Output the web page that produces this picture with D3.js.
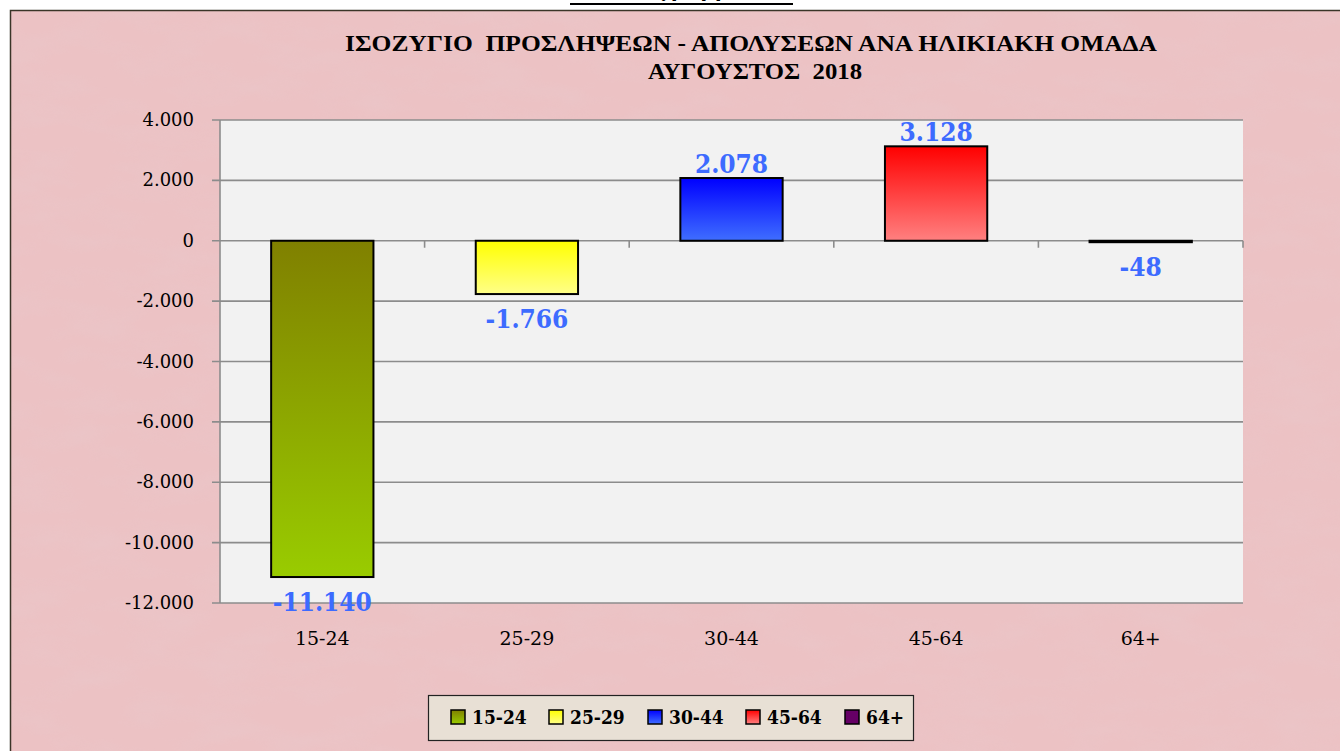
<!DOCTYPE html>
<html><head><meta charset="utf-8">
<script src="https://cdn.jsdelivr.net/npm/d3@7"></script>
<style>
html,body{margin:0;padding:0;background:#fff;}
svg{display:block;}
</style></head>
<body>
<svg id="chart" width="1340" height="751"></svg>
<script>
const categories = ["15-24", "25-29", "30-44", "45-64", "64+"];
const values = [-11140, -1766, 2078, 3128, -48];
const yTicks = [4000, 2000, 0, -2000, -4000, -6000, -8000, -10000, -12000];
const titleLines = ["ΙΣΟΖΥΓΙΟ  ΠΡΟΣΛΗΨΕΩΝ - ΑΠΟΛΥΣΕΩΝ ΑΝΑ ΗΛΙΚΙΑΚΗ ΟΜΑΔΑ", "ΑΥΓΟΥΣΤΟΣ  2018"];
const gradTop = ["#808000", "#FFFF00", "#0000FF", "#FF0000", "#660066"];
const gradBottom = ["#99CC00", "#FFFF88", "#3F6EFF", "#FF8080", "#660066"];

const svg = d3.select("#chart");
const W = 1340, H = 751;
const serif = "'DejaVu Serif', 'Liberation Serif', serif";
const loc = d3.formatLocale({decimal: ",", thousands: ".", grouping: [3], currency: ["", "€"], minus: "-"});
const fmt = loc.format(",d");

const defs = svg.append("defs");
// parchment texture
const filt = defs.append("filter").attr("id", "tex").attr("x", 0).attr("y", 0).attr("width", "100%").attr("height", "100%");
filt.append("feTurbulence").attr("type", "fractalNoise").attr("baseFrequency", "0.015 0.04").attr("numOctaves", 4).attr("seed", 7).attr("result", "n");
filt.append("feColorMatrix").attr("in", "n").attr("type", "matrix")
  .attr("values", "0 0 0 0 0.80  0 0 0 0 0.62  0 0 0 0 0.64  1.4 0 0 0 -0.55").attr("result", "c");
filt.append("feComposite").attr("in", "c").attr("in2", "SourceGraphic").attr("operator", "in");

categories.forEach((c, i) => {
  const g = defs.append("linearGradient").attr("id", "g" + i).attr("x1", 0).attr("y1", 0).attr("x2", 0).attr("y2", 1);
  g.append("stop").attr("offset", "0%").attr("stop-color", gradTop[i]);
  g.append("stop").attr("offset", "100%").attr("stop-color", gradBottom[i]);
});

// top white strip with cut-off caption (cut off in the reference too)
svg.append("text").attr("x", 681).attr("y", -3).attr("text-anchor", "middle")
  .attr("font-family", serif).attr("font-weight", "bold").attr("font-size", 20).attr("fill", "#000").text("Διάγραμμα");
svg.append("line").attr("x1", 570).attr("x2", 793).attr("y1", 4).attr("y2", 4).attr("stroke", "#000").attr("stroke-width", 2);

// chart background
svg.append("rect").attr("x", 10).attr("y", 10).attr("width", W).attr("height", H).attr("fill", "#ECC2C4");
svg.append("rect").attr("x", 10).attr("y", 10).attr("width", W).attr("height", H).attr("fill", "#ECC2C4").attr("filter", "url(#tex)").attr("opacity", 0.35);
svg.append("rect").attr("x", 10.5).attr("y", 10.5).attr("width", W).attr("height", H).attr("fill", "none").attr("stroke", "#3a3528").attr("stroke-width", 1.5);

// title
titleLines.forEach((t, i) => {
  svg.append("text").attr("x", i === 0 ? 751 : 755).attr("y", i === 0 ? 51 : 79).attr("text-anchor", "middle")
    .attr("xml:space", "preserve").style("white-space", "pre")
    .attr("font-family", "'Liberation Serif', serif").attr("font-weight", "bold").attr("font-size", 23)
    .attr("textLength", i === 0 ? 812 : 214).attr("lengthAdjust", "spacingAndGlyphs")
    .attr("fill", "#000").text(t);
});

const x = d3.scaleBand().domain(categories).range([220, 1243]).paddingInner(0.5).paddingOuter(0.25);
const y = d3.scaleLinear().domain([-12000, 4000]).range([603, 120]);

// plot area
svg.append("rect").attr("x", 220).attr("y", 120).attr("width", 1243 - 220).attr("height", 603 - 120).attr("fill", "#F2F2F2");

// gridlines
svg.append("g").selectAll("line").data(yTicks).join("line")
  .attr("x1", 212).attr("x2", 1243).attr("y1", d => y(d)).attr("y2", d => y(d))
  .attr("stroke", "#8C8C8C").attr("stroke-width", 1.6);
// left axis line
svg.append("line").attr("x1", 220).attr("x2", 220).attr("y1", 120).attr("y2", 603).attr("stroke", "#8C8C8C").attr("stroke-width", 1.6);

// y axis labels
svg.append("g").selectAll("text").data(yTicks).join("text")
  .attr("x", 194).attr("y", d => y(d) + 6).attr("text-anchor", "end")
  .attr("font-family", serif).attr("font-size", 18).attr("fill", "#000").text(d => fmt(d));

// category tick marks on zero line
const step = x.step();
svg.append("g").selectAll("line").data(categories).join("line")
  .attr("x1", d => x(d) + x.bandwidth() / 2 + step / 2).attr("x2", d => x(d) + x.bandwidth() / 2 + step / 2)
  .attr("y1", y(0)).attr("y2", y(0) + 7).attr("stroke", "#8C8C8C").attr("stroke-width", 1.6);

// bars
svg.append("g").selectAll("rect").data(values).join("rect")
  .attr("x", (d, i) => x(categories[i]))
  .attr("y", d => y(Math.max(0, d)))
  .attr("width", x.bandwidth())
  .attr("height", d => Math.max(1, Math.abs(y(d) - y(0))))
  .attr("fill", (d, i) => `url(#g${i})`)
  .attr("stroke", "#000").attr("stroke-width", 2);

// data labels
svg.append("g").selectAll("text").data(values).join("text")
  .attr("x", (d, i) => x(categories[i]) + x.bandwidth() / 2)
  .attr("y", d => d >= 0 ? y(d) - 5 : y(d) + 34)
  .attr("text-anchor", "middle")
  .attr("font-family", "'DejaVu Serif Condensed', 'DejaVu Serif', serif").attr("font-weight", "bold").attr("font-size", 26)
  .attr("fill", "#3D6BFF").text(d => fmt(d));

// category labels
svg.append("g").selectAll("text").data(categories).join("text")
  .attr("x", d => x(d) + x.bandwidth() / 2).attr("y", 645).attr("text-anchor", "middle")
  .attr("font-family", serif).attr("font-size", 19).attr("fill", "#000").text(d => d);

// legend
svg.append("rect").attr("x", 428.5).attr("y", 695.5).attr("width", 485).attr("height", 45)
  .attr("fill", "#E8E0D5").attr("stroke", "#222").attr("stroke-width", 1.2);
const legX = [451, 549, 648, 746, 845];
const lg = svg.append("g").selectAll("g").data(categories).join("g")
  .attr("transform", (d, i) => `translate(${legX[i]},710)`);
lg.append("rect").attr("x", 0).attr("y", 0).attr("width", 14).attr("height", 14)
  .attr("fill", (d, i) => `url(#g${i})`).attr("stroke", "#000").attr("stroke-width", 1.5);
lg.append("text").attr("x", 21).attr("y", 14).attr("font-family", "'DejaVu Serif Condensed', 'DejaVu Serif', serif")
  .attr("font-weight", "bold").attr("font-size", 19).attr("fill", "#000").text(d => d);
</script>
</body></html>
